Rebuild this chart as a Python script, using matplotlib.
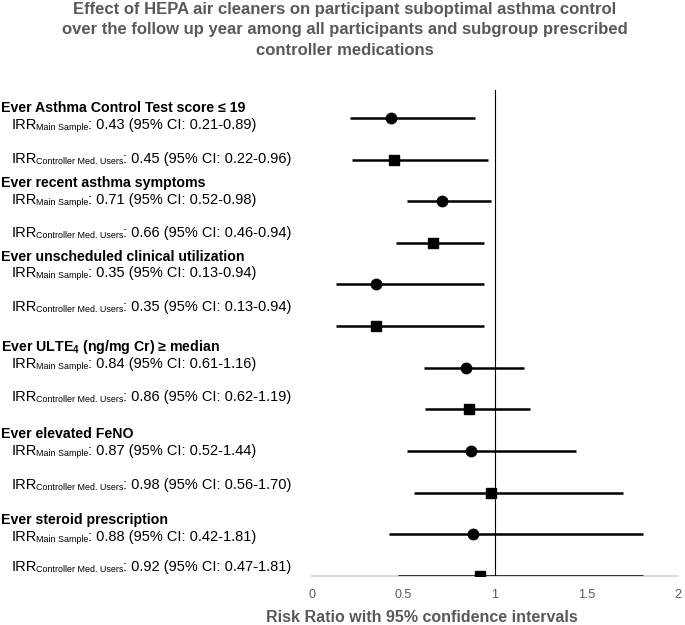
import numpy as np
import matplotlib
matplotlib.use("Agg")
import matplotlib.pyplot as plt

plt.rcParams['font.family'] = ['Liberation Sans', 'DejaVu Sans']
plt.rcParams['mathtext.fontset'] = 'custom'
plt.rcParams['mathtext.rm'] = 'Liberation Sans'
plt.rcParams['mathtext.bf'] = 'Liberation Sans:bold'

# data
outcomes = ["Ever Asthma Control Test score \u2264 19",
            "Ever recent asthma symptoms",
            "Ever unscheduled clinical utilization",
            "Ever ULTE$_{\\mathbf{4}}$ (ng/mg Cr) \u2265 median",
            "Ever elevated FeNO",
            "Ever steroid prescription"]
main_est = [0.43, 0.71, 0.35, 0.84, 0.87, 0.88]
main_lo = [0.21, 0.52, 0.13, 0.61, 0.52, 0.42]
main_hi = [0.89, 0.98, 0.94, 1.16, 1.44, 1.81]
ctrl_est = [0.45, 0.66, 0.35, 0.86, 0.98, 0.92]
ctrl_lo = [0.22, 0.46, 0.13, 0.62, 0.56, 0.47]
ctrl_hi = [0.96, 0.94, 0.94, 1.19, 1.70, 1.81]
groups = ["Main Sample", "Controller Med. Users"]
xticks = [0, 0.5, 1, 1.5, 2]

W, H = 685, 625
fig = plt.figure(figsize=(W / 100, H / 100), dpi=100)
renderer = fig.canvas.get_renderer()
gray = '#595959'

# axes placement in pixels
left, right, top, bottom = 312, 678, 90, 576
ax = fig.add_axes([left / W, 1 - bottom / H, (right - left) / W, (bottom - top) / H])

n = len(outcomes)
y_main = np.arange(n) * 2
y_ctrl = y_main + 1

ax.hlines(y_main, main_lo, main_hi, color='black', lw=1.8)
ax.hlines(y_ctrl, ctrl_lo, ctrl_hi, color='black', lw=1.8)
ax.plot(main_est, y_main, 'o', color='black', ms=7.5, zorder=3)
ax.plot(ctrl_est, y_ctrl, 's', color='black', ms=6.5, zorder=3)
ax.axvline(1, color='black', lw=0.8)

ax.set_xlim(0, 2)
ax.set_ylim(2 * n - 1, -0.67)
ax.set_xticks(xticks)
ax.set_xticklabels([f"{t:g}" for t in xticks], color=gray, fontsize=9)
ax.tick_params(axis='x', length=0, pad=9)
ax.set_yticks([])
for s in ['top', 'left', 'right']:
    ax.spines[s].set_visible(False)
ax.spines['bottom'].set_color('#d9d9d9')
ax.spines['bottom'].set_linewidth(1.3)
ax.spines['bottom'].set_zorder(0)


def irr_label(x_px, y_px, group, est, lo, hi):
    # "IRR" + small subscript on the same baseline + values
    yb = 1 - (y_px + 4) / H
    t = fig.text(x_px / W, yb, "IRR", fontsize=10.5, va='baseline')
    x1 = t.get_window_extent(renderer).x1 - 1
    t = fig.text(x1 / W, yb - 1 / H, group, fontsize=6.4, va='baseline')
    x1 = t.get_window_extent(renderer).x1 - 1
    fig.text(x1 / W, yb, ": %.2f (95%% CI: %.2f-%.2f)" % (est, lo, hi),
             fontsize=10.5, va='baseline')


# left labels (pixel y positions)
header_y = [108, 183, 257, 347, 434, 520]
main_y = [125, 200, 273, 364, 451, 537]
ctrl_y = [159, 233, 307, 397, 485, 567]
for i in range(n):
    fig.text(1 / W, 1 - header_y[i] / H, outcomes[i], fontsize=10.2,
             fontweight='bold', va='center', ha='left')
    irr_label(12, main_y[i], groups[0], main_est[i], main_lo[i], main_hi[i])
    irr_label(12, ctrl_y[i], groups[1], ctrl_est[i], ctrl_lo[i], ctrl_hi[i])

fig.text(345 / W, 1 - 2 / H,
         "Effect of HEPA air cleaners on participant suboptimal asthma control\n"
         "over the follow up year among all participants and subgroup prescribed\n"
         "controller medications",
         ha='center', va='top', fontsize=12, fontweight='bold', color=gray,
         linespacing=1.45)
fig.text(422 / W, 1 - 618 / H, "Risk Ratio with 95% confidence intervals",
         ha='center', va='center', fontsize=11.5, fontweight='bold', color=gray)

fig.savefig("out.png", dpi=100)
